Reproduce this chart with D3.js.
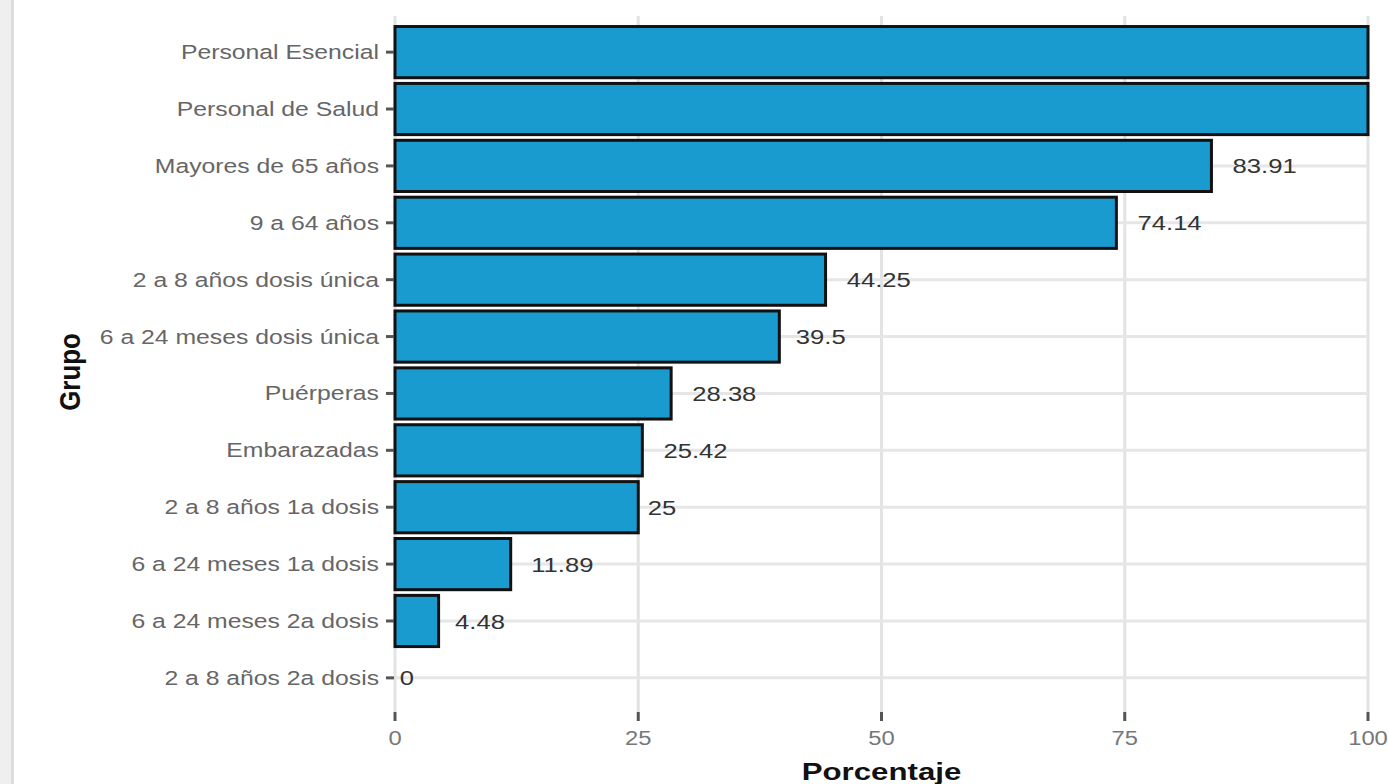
<!DOCTYPE html>
<html><head><meta charset="utf-8">
<script src="https://cdn.jsdelivr.net/npm/d3@7"></script>
<style>body{margin:0;background:#fff;overflow:hidden}svg{display:block}</style>
</head><body>
<script>
const categories = ["Personal Esencial","Personal de Salud","Mayores de 65 años","9 a 64 años","2 a 8 años dosis única","6 a 24 meses dosis única","Puérperas","Embarazadas","2 a 8 años 1a dosis","6 a 24 meses 1a dosis","6 a 24 meses 2a dosis","2 a 8 años 2a dosis"];
const values = [100,100,83.91,74.14,44.25,39.5,28.38,25.42,25,11.89,4.48,0];
const xTicks = [0,25,50,75,100];

(function(){
const W = 1388, H = 784;
const SX = 1.22;
const svg = d3.select("body").append("svg").attr("width", W).attr("height", H);
svg.append("rect").attr("width", W).attr("height", H).attr("fill", "#fff");
svg.append("rect").attr("x",0).attr("y",0).attr("width",11).attr("height",H).attr("fill","#efefef");
svg.append("rect").attr("x",11).attr("y",0).attr("width",3).attr("height",H).attr("fill","#dcdcdc");

const pL = 395, pR = 1368, pT = 16, pB = 712;
const x = d3.scaleLinear().domain([0,100]).range([pL,pR]);
const y = d3.scaleBand().domain(categories).range([pT+2,pB]).paddingInner(0.1).paddingOuter(0.15);
const cy = d => y(d)+y.bandwidth()/2;

const font = "'Liberation Sans', Arial, sans-serif";
const g = svg.append("g");
g.selectAll(".vg").data(xTicks).join("line")
 .attr("x1",d=>x(d)).attr("x2",d=>x(d)).attr("y1",pT).attr("y2",pB)
 .attr("stroke","#e3e3e3").attr("stroke-width",3);
g.selectAll(".hg").data(categories).join("line")
 .attr("x1",pL).attr("x2",pR).attr("y1",cy).attr("y2",cy)
 .attr("stroke","#e6e6e6").attr("stroke-width",3);

svg.append("g").selectAll("rect").data(categories).join("rect")
 .attr("x",x(0)).attr("y",d=>y(d))
 .attr("width",(d,i)=>x(values[i])-x(0)).attr("height",y.bandwidth())
 .attr("fill","#1a9bd0").attr("stroke","#111").attr("stroke-width",3);

// value labels; those falling outside the panel are clipped away as in the reference
svg.append("g").selectAll("text").data(categories).join("text")
 .attr("dy","0.36em")
 .attr("font-family",font).attr("font-size",21).attr("fill","#333")
 .text((d,i)=>String(values[i]))
 .each(function(d,i){ const w=this.getComputedTextLength()*SX; const x0 = x(values[i]) + 0.33*w;
   if (x0 + w > pR + 2) { d3.select(this).remove(); return; }
   d3.select(this).attr("transform",`translate(${x0},${cy(d)}) scale(${SX},1)`); });

const yAxis = svg.append("g");
yAxis.selectAll("line").data(categories).join("line")
 .attr("x1",pL-9).attr("x2",pL-1).attr("y1",cy).attr("y2",cy)
 .attr("stroke","#555").attr("stroke-width",3);
yAxis.selectAll("text").data(categories).join("text")
 .attr("transform",d=>`translate(${pL-16},${cy(d)}) scale(1.27,1)`).attr("dy","0.36em")
 .attr("text-anchor","end").attr("font-family",font).attr("font-size",19.5).attr("fill","#666")
 .text(d=>d);

const xAxis = svg.append("g");
xAxis.selectAll("line").data(xTicks).join("line")
 .attr("x1",d=>x(d)).attr("x2",d=>x(d)).attr("y1",pB).attr("y2",pB+9)
 .attr("stroke","#555").attr("stroke-width",3);
xAxis.selectAll("text").data(xTicks).join("text")
 .attr("transform",d=>`translate(${x(d)},${pB+33}) scale(${SX},1)`).attr("text-anchor","middle")
 .attr("font-family",font).attr("font-size",19.5).attr("fill","#777").text(d=>d);

svg.append("text").attr("transform",`translate(${(pL+pR)/2},780) scale(1.3,1)`).attr("text-anchor","middle")
 .attr("font-family",font).attr("font-size",24).attr("font-weight","bold").attr("fill","#111").text("Porcentaje");
svg.append("text").attr("transform",`translate(80,372) rotate(-90) scale(1.08,1.25)`).attr("text-anchor","middle")
 .attr("font-family",font).attr("font-size",24).attr("font-weight","bold").attr("fill","#111").text("Grupo");
})();
</script>
</body></html>
